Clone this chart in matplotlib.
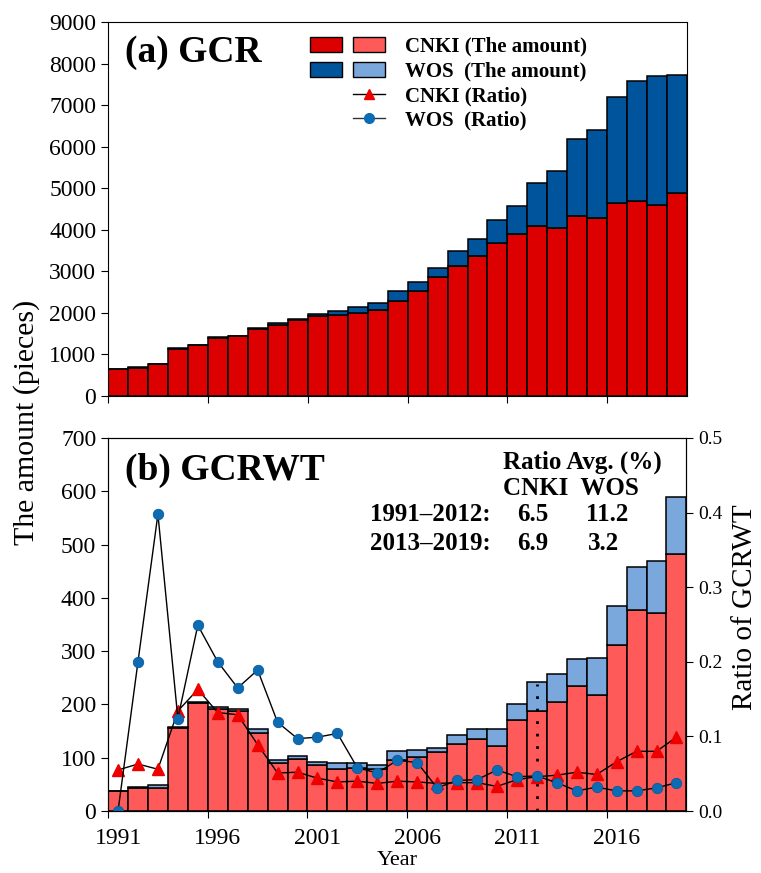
import numpy as np
import matplotlib
matplotlib.use("Agg")
import matplotlib.pyplot as plt
import matplotlib.transforms as mtransforms
from matplotlib.patches import Patch
from matplotlib.lines import Line2D
from matplotlib.legend_handler import HandlerTuple

plt.rcParams['font.family'] = ['Liberation Serif', 'DejaVu Serif']

years = np.arange(1991, 2020)

# (a) GCR: all papers (pieces)
gcr_cnki = [650, 685, 765, 1128, 1225, 1402, 1434, 1612, 1708, 1837, 1926, 1950, 1998, 2079,
            2297, 2538, 2861, 3127, 3376, 3691, 3908, 4085, 4045, 4327, 4295, 4641, 4698,
            4601, 4891]
gcr_wos = [5, 10, 12, 16, 14, 16, 20, 25, 45, 25, 50, 90, 140, 150, 230, 215, 230, 370, 400,
           535, 665, 1045, 1360, 1850, 2095, 2545, 2890, 3110, 2845]

# (b) GCRWT: papers with tree-ring / water topics (pieces)
wt_cnki = [38, 44, 44, 155, 202, 192, 188, 146, 91, 98, 86, 78, 81, 78, 95, 102, 110, 125,
           136, 122, 170, 188, 205, 234, 217, 312, 378, 372, 482]
wt_wos = [0, 2, 4, 2, 3, 3, 3, 7, 5, 6, 6, 12, 9, 8, 17, 12, 8, 18, 18, 31, 31, 54, 53, 51,
          70, 73, 80, 98, 108]

# ratio GCRWT / GCR
ratio_cnki = [0.055, 0.063, 0.056, 0.134, 0.163, 0.132, 0.129, 0.089, 0.051, 0.052, 0.044,
              0.039, 0.040, 0.037, 0.040, 0.039, 0.037, 0.038, 0.038, 0.033, 0.042, 0.046,
              0.048, 0.052, 0.049, 0.066, 0.080, 0.080, 0.099]
ratio_wos = [0.0, 0.200, 0.398, 0.124, 0.249, 0.200, 0.165, 0.189, 0.119, 0.097, 0.099,
             0.104, 0.058, 0.051, 0.068, 0.065, 0.031, 0.041, 0.042, 0.055, 0.046, 0.047,
             0.038, 0.027, 0.032, 0.027, 0.027, 0.031, 0.038]

xticks = [1991, 1996, 2001, 2006, 2011, 2016]

red_dark, blue_dark = '#dc0000', '#00549c'
red_light, blue_light = '#ff5a5a', '#7aa8dc'
tri_col, dot_col = '#ee0000', '#0b6cb3'

fig = plt.figure(figsize=(7.61, 8.73), dpi=100)
ax1 = fig.add_axes([0.142, 0.5464, 0.761, 0.4284])
ax2 = fig.add_axes([0.142, 0.0710, 0.760, 0.4273])
ax3 = ax2.twinx()

# ---- top panel
ax1.bar(years, gcr_cnki, width=1, align='edge', color=red_dark, edgecolor='black', linewidth=1.1)
ax1.bar(years, gcr_wos, width=1, align='edge', bottom=gcr_cnki, color=blue_dark,
        edgecolor='black', linewidth=1.1)
ax1.set_xlim(1991, 2020)
ax1.set_ylim(0, 9000)
ax1.set_yticks(np.arange(0, 9001, 1000))
ax1.set_xticks(xticks)
ax1.set_xticklabels([])
ax1.tick_params(direction='out', length=5, labelsize=17)
ax1.text(0.029, 0.893, '(a) GCR', transform=ax1.transAxes, fontsize=27,
         fontweight='bold', va='baseline')

# ---- bottom panel
ax2.bar(years, wt_cnki, width=1, align='edge', color=red_light, edgecolor='black', linewidth=1.1)
ax2.bar(years, wt_wos, width=1, align='edge', bottom=wt_cnki, color=blue_light,
        edgecolor='black', linewidth=1.1)
ax2.vlines(2012.5, 0, 238, colors='black', linestyles=(0, (1, 3.5)), linewidth=2, zorder=3)
ax2.set_xlim(1991, 2020)
ax2.set_ylim(0, 700)
ax2.set_yticks(np.arange(0, 701, 100))
ax2.set_xticks(xticks)
ax2.tick_params(direction='out', length=5, labelsize=17)
ax2.tick_params(axis='x', pad=7)
offset = mtransforms.ScaledTranslation(10 / 100, 0, fig.dpi_scale_trans)
for lab in ax2.get_xticklabels():
    lab.set_transform(lab.get_transform() + offset)
ax2.set_xlabel('Year', fontsize=16, labelpad=2)

ax3.plot(years + 0.5, ratio_cnki, color='black', linewidth=1, marker='^', markersize=8,
         markerfacecolor=tri_col, markeredgecolor=tri_col)
ax3.plot(years + 0.5, ratio_wos, color='black', linewidth=1, marker='o', markersize=7.5,
         markerfacecolor=dot_col, markeredgecolor='#0a5a9a', markeredgewidth=0.6)
ax3.set_ylim(0, 0.5)
ax3.set_yticks(np.arange(0, 0.51, 0.1))
ax3.set_yticklabels(['%.1f' % v for v in np.arange(0, 0.51, 0.1)])
ax3.tick_params(direction='out', length=5, labelsize=14)

ax2.text(0.029, 0.887, '(b) GCRWT', transform=ax2.transAxes, fontsize=27,
         fontweight='bold', va='baseline')
bold = dict(transform=ax2.transAxes, fontsize=18, fontweight='bold', va='baseline')
ax2.text(0.683, 0.917, 'Ratio Avg. (%)', ha='left', **bold)
ax2.text(0.683, 0.847, 'CNKI  WOS', ha='left', **bold)
ax2.text(0.661, 0.777, '1991\u20132012:', ha='right', **bold)
ax2.text(0.735, 0.777, '6.5', ha='center', **bold)
ax2.text(0.863, 0.777, '11.2', ha='center', **bold)
ax2.text(0.661, 0.700, '2013\u20132019:', ha='right', **bold)
ax2.text(0.735, 0.700, '6.9', ha='center', **bold)
ax2.text(0.856, 0.700, '3.2', ha='center', **bold)

# ---- legend (in top panel)
blank = Line2D([], [], linestyle='none')
handles = [
    (Patch(facecolor=red_dark, edgecolor='black'), Patch(facecolor=red_light, edgecolor='black')),
    (Patch(facecolor=blue_dark, edgecolor='black'), Patch(facecolor=blue_light, edgecolor='black')),
    (blank, Line2D([], [], color='black', linewidth=1, marker='^', markersize=7,
                   markerfacecolor=tri_col, markeredgecolor=tri_col)),
    (blank, Line2D([], [], color='#333333', linewidth=1, marker='o', markersize=7,
                   markerfacecolor=dot_col, markeredgecolor=dot_col)),
]
labels = ['CNKI (The amount)', 'WOS  (The amount)', 'CNKI (Ratio)', 'WOS  (Ratio)']
ax1.legend(handles, labels, handler_map={tuple: HandlerTuple(ndivide=None, pad=0.5)},
           loc='upper left', bbox_to_anchor=(0.349, 0.960), frameon=False,
           borderpad=0, borderaxespad=0, handlelength=3.6, handleheight=0.75,
           handletextpad=0.95, labelspacing=0.22,
           prop={'family': 'Liberation Serif', 'weight': 'bold', 'size': 15})

fig.text(0.035, 0.5166, 'The amount (pieces)', rotation=90, ha='center', va='center', fontsize=21.5)
fig.text(0.979, 0.305, 'Ratio of GCRWT', rotation=90, ha='center', va='center', fontsize=21)

fig.savefig('out.png', dpi=100)
